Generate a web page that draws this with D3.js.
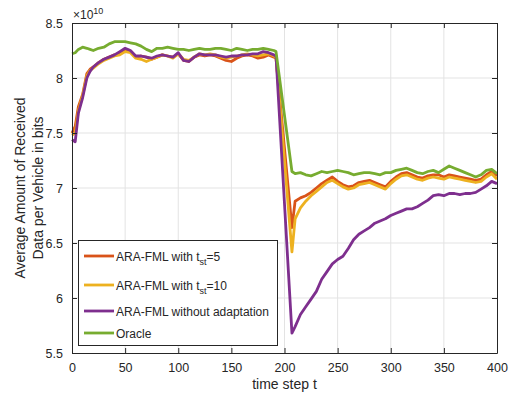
<!DOCTYPE html>
<html>
<head>
  <meta charset="utf-8">
  <script src="https://cdn.jsdelivr.net/npm/d3@7"></script>
  <style>
    body { margin: 0; background: #fff; }
    text { font-family: "Liberation Sans", Arial, sans-serif; fill: #262626; }
  </style>
</head>
<body>
<script>
// time steps sampled from the figure
var steps = [0,3,6,10,14,17,20,25,30,35,40,45,50,55,60,65,70,75,80,85,90,95,100,105,110,115,120,125,130,135,140,145,150,155,160,165,170,175,180,185,190,192,207,210,215,220,225,230,235,240,245,250,255,260,265,270,275,280,285,290,295,300,305,310,315,320,325,330,335,340,345,350,355,360,365,370,375,380,385,390,395,400];

// values in units of 1e10 bits
var tst5 = [7.50,7.56,7.74,7.85,8.04,8.08,8.10,8.14,8.17,8.19,8.21,8.22,8.25,8.24,8.19,8.20,8.19,8.17,8.19,8.21,8.20,8.19,8.22,8.16,8.15,8.19,8.21,8.20,8.21,8.20,8.18,8.16,8.15,8.18,8.20,8.21,8.20,8.18,8.19,8.21,8.19,8.18,6.64,6.88,6.91,6.93,6.96,7.00,7.04,7.07,7.10,7.06,7.03,7.01,7.02,7.05,7.06,7.07,7.05,7.03,7.01,7.06,7.10,7.13,7.14,7.12,7.10,7.09,7.11,7.12,7.12,7.10,7.12,7.11,7.10,7.09,7.08,7.07,7.08,7.12,7.15,7.11];
var tst10 = [7.48,7.50,7.70,7.84,8.02,8.07,8.09,8.13,8.16,8.18,8.20,8.21,8.24,8.23,8.18,8.17,8.15,8.17,8.19,8.21,8.20,8.18,8.22,8.17,8.16,8.19,8.22,8.21,8.22,8.21,8.19,8.18,8.19,8.20,8.21,8.22,8.21,8.20,8.21,8.22,8.20,8.19,6.42,6.72,6.82,6.88,6.93,6.97,7.01,7.05,7.07,7.04,7.01,6.99,7.00,7.03,7.04,7.05,7.03,7.01,6.99,7.04,7.08,7.11,7.12,7.10,7.08,7.07,7.09,7.10,7.09,7.08,7.10,7.09,7.08,7.07,7.06,7.05,7.06,7.10,7.13,7.08];
var noAdapt = [7.44,7.42,7.68,7.82,8.00,8.06,8.10,8.14,8.17,8.19,8.21,8.24,8.27,8.25,8.20,8.20,8.19,8.18,8.20,8.21,8.20,8.19,8.23,8.16,8.15,8.19,8.22,8.21,8.21,8.21,8.20,8.19,8.20,8.20,8.21,8.21,8.22,8.22,8.24,8.23,8.21,8.20,5.68,5.74,5.85,5.92,5.99,6.06,6.17,6.24,6.31,6.35,6.38,6.45,6.53,6.58,6.61,6.64,6.68,6.70,6.72,6.75,6.77,6.79,6.81,6.81,6.83,6.86,6.89,6.93,6.94,6.93,6.95,6.95,6.94,6.95,6.95,6.96,6.99,7.02,7.06,7.04];
var oracle = [8.22,8.23,8.26,8.28,8.27,8.26,8.25,8.27,8.28,8.31,8.33,8.33,8.33,8.32,8.31,8.29,8.26,8.24,8.27,8.27,8.28,8.27,8.26,8.26,8.25,8.26,8.27,8.26,8.26,8.27,8.27,8.26,8.25,8.27,8.26,8.25,8.26,8.26,8.27,8.26,8.25,8.24,7.15,7.13,7.14,7.12,7.11,7.13,7.15,7.14,7.15,7.16,7.15,7.14,7.12,7.13,7.14,7.14,7.13,7.12,7.14,7.14,7.16,7.17,7.18,7.16,7.14,7.13,7.15,7.16,7.14,7.17,7.20,7.18,7.16,7.14,7.12,7.10,7.12,7.16,7.17,7.13];

var xTicks = [0,50,100,150,200,250,300,350,400];
var yTicks = [5.5,6,6.5,7,7.5,8,8.5];

var seriesList = [
  { name: "tst5", values: tst5, color: "#D95319" },
  { name: "tst10", values: tst10, color: "#EDB120" },
  { name: "noAdapt", values: noAdapt, color: "#7E2F8E" },
  { name: "oracle", values: oracle, color: "#77AC30" }
];

var W = 510, H = 393;
var pLeft = 72, pRight = 497, pTop = 23, pBottom = 353;

var svg = d3.select("body").append("svg")
  .attr("width", W).attr("height", H);

var x = d3.scaleLinear().domain([0, 400]).range([pLeft, pRight]);
var y = d3.scaleLinear().domain([5.5, 8.5]).range([pBottom, pTop]);

// grid
svg.append("g").selectAll("line").data(xTicks.slice(1, -1)).enter().append("line")
  .attr("x1", d => x(d)).attr("x2", d => x(d))
  .attr("y1", pTop).attr("y2", pBottom)
  .attr("stroke", "#e3e3e3").attr("stroke-width", 1);
svg.append("g").selectAll("line").data(yTicks.slice(1, -1)).enter().append("line")
  .attr("x1", pLeft).attr("x2", pRight)
  .attr("y1", d => y(d)).attr("y2", d => y(d))
  .attr("stroke", "#e3e3e3").attr("stroke-width", 1);

// lines
var line = d3.line()
  .x((d, i) => x(steps[i]))
  .y(d => y(d));

seriesList.forEach(function (s) {
  svg.append("path")
    .datum(s.values)
    .attr("d", line)
    .attr("fill", "none")
    .attr("stroke", s.color)
    .attr("stroke-width", 2.8)
    .attr("stroke-linejoin", "round");
});

// axes (ticks pointing inward, box on)
var fmtY = d => d3.format(".1f")(d).replace(/\.0$/, "");
var axB = svg.append("g").attr("transform", "translate(0," + pBottom + ")")
  .call(d3.axisBottom(x).tickValues(xTicks).tickSizeInner(-5).tickSizeOuter(0).tickPadding(10));
var axL = svg.append("g").attr("transform", "translate(" + pLeft + ",0)")
  .call(d3.axisLeft(y).tickValues(yTicks).tickFormat(fmtY).tickSizeInner(-5).tickSizeOuter(0).tickPadding(9));
var axT = svg.append("g").attr("transform", "translate(0," + pTop + ")")
  .call(d3.axisTop(x).tickValues(xTicks).tickFormat("").tickSizeInner(-5).tickSizeOuter(0));
var axR = svg.append("g").attr("transform", "translate(" + pRight + ",0)")
  .call(d3.axisRight(y).tickValues(yTicks).tickFormat("").tickSizeInner(-5).tickSizeOuter(0));

[axB, axL, axT, axR].forEach(function (g) {
  g.selectAll("path").attr("stroke", "#262626");
  g.selectAll("line").attr("stroke", "#262626");
  g.selectAll("text").style("font-size", "12.5px").attr("fill", "#262626")
    .style("font-family", "'Liberation Sans', Arial, sans-serif");
});

// exponent label
var expo = svg.append("text").attr("x", pLeft + 1).attr("y", 19).style("font-size", "12px");
expo.append("tspan").text("\u00d710");
expo.append("tspan").attr("dy", -5).style("font-size", "9px").text("10");

// axis titles
svg.append("text")
  .attr("x", (pLeft + pRight) / 2).attr("y", 389)
  .attr("text-anchor", "middle").style("font-size", "14px")
  .text("time step t");

var yl = svg.append("text")
  .attr("transform", "translate(25," + (pTop + pBottom) / 2 + ") rotate(-90)")
  .attr("text-anchor", "middle").style("font-size", "14px");
yl.append("tspan").attr("x", 0).attr("y", 0).text("Average Amount of Received");
yl.append("tspan").attr("x", 0).attr("y", 18).text("Data per Vehicle in bits");

// legend
var lg = svg.append("g");
lg.append("rect").attr("x", 78.5).attr("y", 240.5).attr("width", 199).attr("height", 105)
  .attr("fill", "#fff").attr("stroke", "#262626").attr("stroke-width", 1);

var legendRows = [
  { color: "#D95319", cy: 256, parts: ["ARA-FML with t", "st", "=5"] },
  { color: "#EDB120", cy: 285, parts: ["ARA-FML with t", "st", "=10"] },
  { color: "#7E2F8E", cy: 311, parts: ["ARA-FML without adaptation"] },
  { color: "#77AC30", cy: 333, parts: ["Oracle"] }
];

legendRows.forEach(function (r) {
  lg.append("line").attr("x1", 84).attr("x2", 114).attr("y1", r.cy).attr("y2", r.cy)
    .attr("stroke", r.color).attr("stroke-width", 2.8);
  var t = lg.append("text").attr("x", 116).attr("y", r.cy + 4.5).style("font-size", "12px");
  t.append("tspan").text(r.parts[0]);
  if (r.parts.length > 1) {
    t.append("tspan").attr("dy", 4).style("font-size", "9px").text(r.parts[1]);
    t.append("tspan").attr("dy", -4).text(r.parts[2]);
  }
});
</script>
</body>
</html>
